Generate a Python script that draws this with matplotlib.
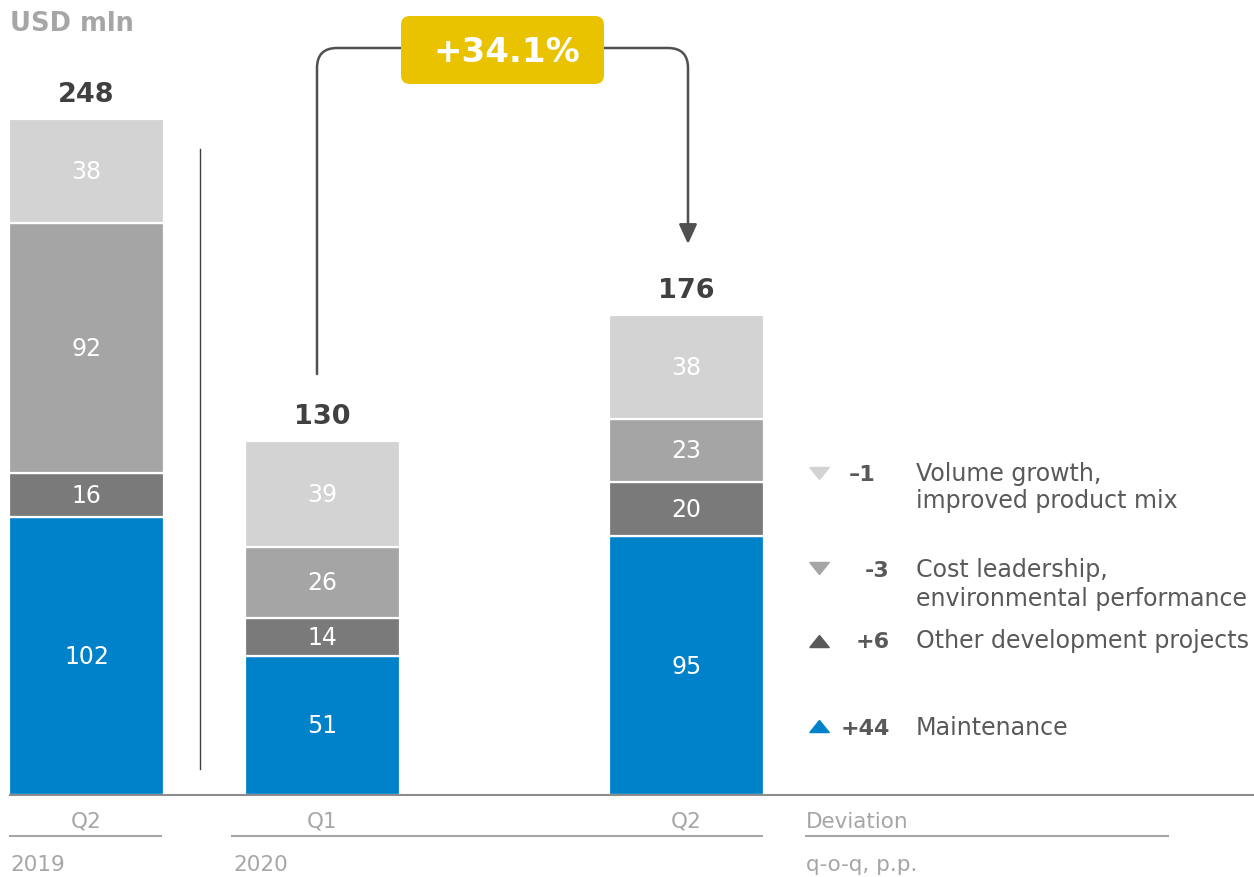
import matplotlib

matplotlib.use("Agg")

import matplotlib.pyplot as plt
from matplotlib.patches import FancyArrowPatch, FancyBboxPatch
from matplotlib.path import Path

plt.rcParams["font.family"] = ["DejaVu Sans"]

# capex by quarter, USD mln, stacked bottom to top
periods = ["Q2", "Q1", "Q2"]
years = ["2019", "2020"]
maintenance = [102, 51, 95]
other_dev = [16, 14, 20]
cost_leadership = [92, 26, 23]
volume_growth = [38, 39, 38]
totals = [248, 130, 176]
growth_label = "+34.1%"

dev_values = ["\u20131", "-3", "+6", "+44"]
dev_labels = [
    ["Volume growth,", "improved product mix"],
    ["Cost leadership,", "environmental performance"],
    ["Other development projects"],
    ["Maintenance"],
]
dev_up = [False, False, True, True]

BLUE = "#0082CA"
DARK = "#7A7A7A"
MID = "#A5A5A5"
LIGHT = "#D3D3D3"
TEXT_DARK = "#404040"
TEXT_GREY = "#A6A6A6"
LEGEND_TEXT = "#595959"
YELLOW = "#E9C200"

W, H = 1254, 878
BASE_PX = 796
PX_PER_UNIT = (BASE_PX - 120) / 248

fig = plt.figure(figsize=(W / 100, H / 100), dpi=100)

# main axes: x in pixels, y in USD mln
ax = fig.add_axes([0, 0, 1, 1])
ax.set_xlim(0, W)
ax.set_ylim(-(H - BASE_PX) / PX_PER_UNIT, BASE_PX / PX_PER_UNIT)
ax.axis("off")

# overlay in pixel coordinates for the annotations
ov = fig.add_axes([0, 0, 1, 1], zorder=3)
ov.set_xlim(0, W)
ov.set_ylim(H, 0)
ov.axis("off")
ov.patch.set_alpha(0)

xpos = [86.5, 322.5, 686.5]
bar_w = 155

series = [
    (maintenance, BLUE),
    (other_dev, DARK),
    (cost_leadership, MID),
    (volume_growth, LIGHT),
]

bottoms = [0, 0, 0]
for values, color in series:
    ax.bar(xpos, values, width=bar_w, bottom=bottoms, color=color,
           edgecolor="white", linewidth=1.6, zorder=2)
    for x, v, b in zip(xpos, values, bottoms):
        ax.text(x, b + v / 2, str(v), ha="center", va="center",
                fontsize=17, color="white", zorder=3)
    bottoms = [b + v for b, v in zip(bottoms, values)]

for x, t in zip(xpos, totals):
    ax.text(x, t + 18 / PX_PER_UNIT, str(t), ha="center", va="baseline",
            fontsize=19.5, fontweight="bold", color=TEXT_DARK)

# baseline
ax.plot([10, W], [0, 0], color="#8C8C8C", lw=1.5, zorder=4)

# separator between 2019 and 2020
ov.plot([200, 200], [150, 770], color=TEXT_DARK, lw=1)

# unit label
ov.text(10, 31, "USD mln", ha="left", va="baseline", fontsize=18.5,
        fontweight="bold", color=TEXT_GREY)

# growth bracket with arrow
r = 20
xl, xr, ytop = 317, 688, 49
verts = [
    (xl, 375), (xl, ytop + r),
    (xl, ytop), (xl + r, ytop),
    (xr - r, ytop),
    (xr, ytop), (xr, ytop + r),
    (xr, 245),
]
codes = [Path.MOVETO, Path.LINETO, Path.CURVE3, Path.CURVE3, Path.LINETO,
         Path.CURVE3, Path.CURVE3, Path.LINETO]
bracket = FancyArrowPatch(
    path=Path(verts, codes),
    arrowstyle="-|>,head_length=12,head_width=5.5",
    mutation_scale=1,
    color="#505050",
    lw=1.8,
    shrinkA=0,
    shrinkB=0,
)
ov.add_patch(bracket)

box = FancyBboxPatch((401, 17), 203, 68, boxstyle="round,pad=0,rounding_size=9",
                     fc=YELLOW, ec="none", zorder=4)
ov.add_patch(box)
ov.text(507, 53, growth_label, ha="center", va="center", fontsize=24.5,
        fontweight="bold", color="white", zorder=5)

# deviation legend
row_base = [[481, 508], [577, 606], [648], [735]]
marker_y = [474, 569, 642, 727]
marker_colors = [LIGHT, MID, "#595959", BLUE]
value_right = [876, 890, 890, 890]

up_tri = [(-1, -0.62), (1, -0.62), (0, 0.62), (-1, -0.62)]
down_tri = [(-1, 0.62), (1, 0.62), (0, -0.62), (-1, 0.62)]

for i, (val, lines) in enumerate(zip(dev_values, dev_labels)):
    ov.plot(819, marker_y[i], marker=up_tri if dev_up[i] else down_tri,
            markersize=14, color=marker_colors[i], linestyle="none")
    ov.text(value_right[i], row_base[i][0], val, ha="right", va="baseline",
            fontsize=16, fontweight="bold", color=LEGEND_TEXT)
    for yb, line in zip(row_base[i], lines):
        ov.text(916, yb, line, ha="left", va="baseline", fontsize=17.1,
                color=LEGEND_TEXT)

# category axis labels
for x, p in zip(xpos, periods):
    ov.text(x, 828, p, ha="center", va="baseline", fontsize=15.5, color=TEXT_GREY)
ov.text(806, 828, "Deviation", ha="left", va="baseline", fontsize=15.5, color=TEXT_GREY)

for x0, x1 in [(10, 161), (232, 762), (806, 1168)]:
    ov.plot([x0, x1], [837, 837], color=TEXT_GREY, lw=1.5)

ov.text(10, 871, years[0], ha="left", va="baseline", fontsize=15.5, color=TEXT_GREY)
ov.text(233, 871, years[1], ha="left", va="baseline", fontsize=15.5, color=TEXT_GREY)
ov.text(806, 871, "q-o-q, p.p.", ha="left", va="baseline", fontsize=15.5, color=TEXT_GREY)

fig.savefig("out.png", dpi=100)
